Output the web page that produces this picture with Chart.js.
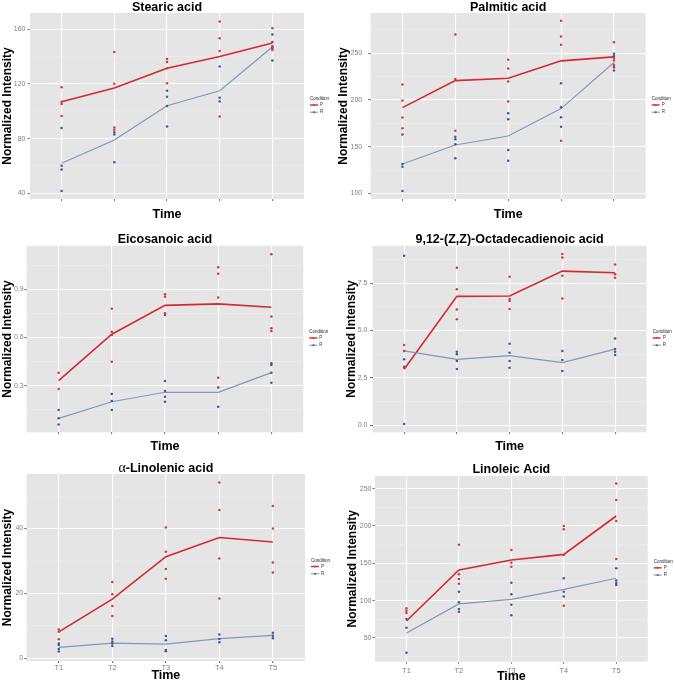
<!DOCTYPE html>
<html>
<head>
<meta charset="utf-8">
<script src="https://cdn.jsdelivr.net/npm/chart.js@4.4.1/dist/chart.umd.min.js"></script>
<style>
body { margin: 0; background: #fff; }
#wrap { position: relative; width: 675px; height: 683px; }
#wrap canvas { position: absolute; }
</style>
</head>
<body>
<div id="wrap"></div>
<script>
var times = ['T1', 'T2', 'T3', 'T4', 'T5'];
var conditions = ['P', 'R'];

// Stearic acid
var stearicMeanP = [107, 117, 131.5, 140, 150];
var stearicMeanR = [62, 79, 104, 115, 147];
var stearicRepP = [[117.6, 107, 105.4, 96.6], [143.4, 120.2, 88.1, 86.4], [138.3, 136.1, 131.5, 120.5], [165.6, 153.4, 144.1, 96.1], [160.7, 147.8, 146.1, 144.9]];
var stearicRepR = [[87.8, 60.2, 57.3, 41.7], [84.7, 83, 62.7], [115.1, 110.7, 103.9, 88.8], [132.7, 109.8, 107.1], [156.1, 150.7, 146.8, 137.1]];
var stearicTicks = [40, 80, 120, 160];

// Palmitic acid
var palmiticMeanP = [191.8, 220.7, 223.2, 241.8, 246.1];
var palmiticMeanR = [131.4, 151.8, 161.4, 190.7, 240];
var palmiticRepP = [[216.4, 199.3, 181.1, 169.6], [270, 222.5, 167.1], [242.9, 233.6, 219.6, 198.2], [284.6, 267.9, 258.9, 156.4], [261.8, 244.6, 242.1, 237.5, 234.6]];
var palmiticRepR = [[162.9, 131.4, 128.6, 102.5], [160.7, 157.9, 152.5, 137.5], [185.7, 179.3, 146.4, 135], [217.9, 192.1, 181.4, 171.4], [249.3, 247.1, 235.7, 231.4]];
var palmiticTicks = [100, 150, 200, 250];

// Eicosanoic acid
var eicosMeanP = [0.331, 0.620, 0.800, 0.809, 0.788];
var eicosMeanR = [0.097, 0.200, 0.259, 0.259, 0.381];
var eicosRepP = [[0.381, 0.279], [0.778, 0.636, 0.616, 0.449], [0.869, 0.854, 0.751, 0.740], [1.037, 0.996, 0.848, 0.350], [1.118, 0.730, 0.657, 0.640]];
var eicosRepR = [[0.148, 0.097, 0.059], [0.248, 0.205, 0.148], [0.329, 0.267, 0.231, 0.200], [0.288, 0.169], [0.439, 0.429, 0.381, 0.319]];
var eicosTicks = [0.3, 0.6, 0.9];

// 9,12-(Z,Z)-Octadecadienoic acid
var octaMeanP = [2.95, 6.80, 6.82, 8.13, 8.04];
var octaMeanR = [3.92, 3.48, 3.67, 3.30, 4.02];
var octaRepP = [[4.23, 3.92, 3.04], [8.31, 7.18, 6.11, 5.59], [7.83, 6.66, 6.55, 6.13], [9.03, 8.85, 7.89, 6.69], [8.48, 7.97, 7.78]];
var octaRepR = [[8.94, 3.92, 3.48, 3.09, 0.07], [3.88, 3.74, 3.39, 2.97], [4.30, 3.83, 3.39, 3.04], [3.92, 3.44, 2.86], [4.58, 4.02, 3.88, 3.71]];
var octaTicks = [0.0, 2.5, 5.0, 7.5];

// alpha-Linolenic acid
var linolenicMeanP = [8.1, 18.2, 31.3, 37.2, 35.8];
var linolenicMeanR = [3.3, 4.6, 4.3, 6.0, 7.0];
var linolenicRepP = [[8.8, 8.1, 5.8], [23.5, 19.7, 16.1, 13.0], [40.3, 32.8, 27.5, 24.5], [54.2, 45.7, 30.7, 18.4], [46.9, 40.0, 29.5, 26.4]];
var linolenicRepR = [[4.5, 4.0, 2.8, 2.0], [6.0, 5.1, 4.5, 3.7], [6.8, 5.5, 2.5, 2.1], [7.3, 5.9, 4.9], [7.8, 6.9, 6.1]];
var linolenicTicks = [0, 20, 40];

// Linoleic acid
var linoleicMeanP = [72.7, 141, 154.4, 162, 213.4];
var linoleicMeanR = [56.6, 95.6, 101.8, 115, 130];
var linoleicRepP = [[89.7, 86.6, 83.5], [175, 135.3, 129, 122.7], [167.8, 150.8, 145.5], [200, 195.5, 161, 93.3], [257, 234.8, 206.7, 155.8]];
var linoleicRepR = [[75.4, 63.8, 30.3], [112, 98, 88.7, 85], [124, 108.5, 94.5, 80.3], [130, 112, 105.4], [143.3, 127, 123.6, 121]];
var linoleicTicks = [50, 100, 150, 200, 250];

var RED_LINE = '#d7282e', RED_PT = '#d23a3f';
var BLUE_LINE = '#8496ba', BLUE_PT = '#3b5b98';
var FONT = '"Liberation Sans", Arial, sans-serif';
Chart.defaults.font.family = FONT;

// box = canvas [left, top, w, h], area = plot area inside the canvas [left, top, right, bottom]
var panels = [
  {title: [['Stearic acid', 'bold']], mp: stearicMeanP, mr: stearicMeanR, rp: stearicRepP, rr: stearicRepR, ticks: stearicTicks, dec: 0,
   min: 35.8, max: 171.9, box: [0, 0, 335, 226], area: [30, 13, 304, 199], titleY: 7.3, timePad: 5.5, yPad: 1.5, yTickPad: 2, xLabels: false, xPad: 0},
  {title: [['Palmitic acid', 'bold']], mp: palmiticMeanP, mr: palmiticMeanR, rp: palmiticRepP, rr: palmiticRepR, ticks: palmiticTicks, dec: 0,
   min: 94, max: 293, box: [335, 0, 340, 226], area: [35.7, 13, 310.7, 199], titleY: 7.3, timePad: 5.5, yPad: 2.3, yTickPad: 6, xLabels: false, xPad: 0},
  {title: [['Eicosanoic acid', 'bold']], mp: eicosMeanP, mr: eicosMeanR, rp: eicosRepP, rr: eicosRepR, ticks: eicosTicks, dec: 1,
   min: 0.01, max: 1.171, box: [0, 228, 335, 228], area: [26.7, 17.7, 303.3, 204.3], titleY: 12, timePad: 2.8, yPad: 1.2, yTickPad: 0.5, xLabels: false, xPad: 0},
  {title: [['9,12-(Z,Z)-Octadecadienoic acid', 'bold']], mp: octaMeanP, mr: octaMeanR, rp: octaRepP, rr: octaRepR, ticks: octaTicks, dec: 1,
   min: -0.37, max: 9.47, box: [335, 228, 340, 228], area: [37.5, 17.7, 311.7, 204.3], titleY: 12, timePad: 2.8, yPad: 10.5, yTickPad: 2.5, xLabels: false, xPad: 0},
  {title: [['\u03b1', 'alpha'], ['-Linolenic acid', 'bold']], mp: linolenicMeanP, mr: linolenicMeanR, rp: linolenicRepP, rr: linolenicRepR, ticks: linolenicTicks, dec: 0,
   min: -0.9, max: 56.8, box: [0, 458, 335, 225], area: [26.7, 16, 305, 203], titleY: 10.3, timePad: 1.5, yPad: 2, yTickPad: 1, xLabels: true, xPad: 0},
  {title: [['Linoleic Acid', 'bold']], mp: linoleicMeanP, mr: linoleicMeanR, rp: linoleicRepP, rr: linoleicRepR, ticks: linoleicTicks, dec: 0,
   min: 18.2, max: 267, box: [335, 458, 340, 225], area: [40, 18, 312.7, 203.7], titleY: 11.3, timePad: 0.5, yPad: 12, yTickPad: 1, xLabels: true, xPad: 3}
];

function linePts(vals) {
  return vals.map(function (v, i) { return {x: i + 1, y: v}; });
}
function repPts(reps) {
  var out = [];
  reps.forEach(function (vals, i) {
    vals.forEach(function (v) { out.push({x: i + 1, y: v}); });
  });
  return out;
}
// major ticks from the array, plus minor ticks half way between them
function yTicks(major, min, max) {
  var step = major[1] - major[0];
  var out = major.map(function (v) { return {value: v}; });
  for (var v = major[0] - step / 2; v <= max; v += step) {
    if (v >= min) out.push({value: v, minor: true});
  }
  out.sort(function (a, b) { return a.value - b.value; });
  return out;
}

function ggPlugin(p) {
  return {
    id: 'gg',
    beforeDraw: function (chart) {
      var a = chart.chartArea, ctx = chart.ctx;
      ctx.save();
      ctx.fillStyle = '#e5e5e5';
      ctx.fillRect(a.left, a.top, a.right - a.left, a.bottom - a.top);
      ctx.restore();
    },
    afterDraw: function (chart) {
      var a = chart.chartArea, ctx = chart.ctx;
      ctx.save();
      // title
      var fonts = {bold: 'bold 12.5px ' + FONT, alpha: '14px "Liberation Serif", serif'};
      var w = 0;
      p.title.forEach(function (s) { ctx.font = fonts[s[1]]; w += ctx.measureText(s[0]).width; });
      var x = (a.left + a.right) / 2 - w / 2;
      ctx.fillStyle = '#000';
      ctx.textBaseline = 'middle';
      ctx.textAlign = 'left';
      p.title.forEach(function (s) {
        ctx.font = fonts[s[1]];
        ctx.fillText(s[0], x, p.titleY);
        x += ctx.measureText(s[0]).width;
      });
      // legend
      var lx = a.right + 6, cy = (a.top + a.bottom) / 2;
      ctx.font = '4.5px ' + FONT;
      ctx.fillStyle = '#222';
      ctx.fillText('Condition', lx, cy - 7);
      conditions.forEach(function (c, i) {
        var y = cy - 1 + i * 7.2;
        ctx.strokeStyle = i === 0 ? RED_LINE : BLUE_LINE;
        ctx.lineWidth = i === 0 ? 1.4 : 1.1;
        ctx.beginPath(); ctx.moveTo(lx, y); ctx.lineTo(lx + 8, y); ctx.stroke();
        ctx.fillStyle = i === 0 ? RED_PT : BLUE_PT;
        ctx.beginPath(); ctx.arc(lx + 4, y, 1, 0, Math.PI * 2); ctx.fill();
        ctx.fillStyle = '#333';
        ctx.fillText(c, lx + 10, y);
      });
      ctx.restore();
    }
  };
}

var wrap = document.getElementById('wrap');
panels.forEach(function (p) {
  var cv = document.createElement('canvas');
  cv.width = p.box[2];
  cv.height = p.box[3];
  cv.style.left = p.box[0] + 'px';
  cv.style.top = p.box[1] + 'px';
  wrap.appendChild(cv);
  var yW = p.area[0];
  var xH = p.box[3] - p.area[3];

  new Chart(cv, {
    type: 'line',
    data: {
      datasets: [
        {label: 'P', data: linePts(p.mp), borderColor: RED_LINE, borderWidth: 1.6, pointRadius: 0, tension: 0, order: 3},
        {label: 'R', data: linePts(p.mr), borderColor: BLUE_LINE, borderWidth: 1.2, pointRadius: 0, tension: 0, order: 2},
        {label: 'P reps', data: repPts(p.rp), showLine: false, pointRadius: 1.25, pointBackgroundColor: RED_PT, pointBorderWidth: 0, order: 1},
        {label: 'R reps', data: repPts(p.rr), showLine: false, pointRadius: 1.25, pointBackgroundColor: BLUE_PT, pointBorderWidth: 0, order: 1}
      ]
    },
    options: {
      responsive: false,
      animation: false,
      devicePixelRatio: 1,
      events: [],
      layout: {padding: {left: 0, top: p.area[1], right: p.box[2] - p.area[2], bottom: 0}},
      plugins: {legend: {display: false}, tooltip: {enabled: false}, title: {display: false}},
      scales: {
        x: {
          type: 'linear', min: 0.4, max: 5.6,
          afterBuildTicks: function (s) { s.ticks = times.map(function (t, i) { return {value: i + 1}; }); },
          afterFit: function (s) { s.height = xH; },
          border: {display: false},
          grid: {color: '#ffffff', lineWidth: 1.1, tickLength: 2, tickColor: '#7f7f7f'},
          ticks: {autoSkip: false, maxRotation: 0, padding: p.xPad, color: '#7f7f7f', font: {size: 7.5},
            callback: function (v) { return p.xLabels ? times[v - 1] : ''; }},
          title: {display: true, text: 'Time', color: '#000', font: {size: 12.5, weight: 'bold', lineHeight: 1},
            padding: {top: 0, bottom: p.timePad}}
        },
        y: {
          min: p.min, max: p.max,
          afterBuildTicks: function (s) { s.ticks = yTicks(p.ticks, p.min, p.max); },
          afterFit: function (s) { s.width = yW; },
          border: {display: false},
          grid: {
            color: function (c) { return c.tick && c.tick.minor ? '#ececec' : '#ffffff'; },
            lineWidth: function (c) { return c.tick && c.tick.minor ? 0.6 : 1.1; },
            tickLength: 2.5,
            tickColor: function (c) { return c.tick && c.tick.minor ? 'rgba(0,0,0,0)' : '#7f7f7f'; }
          },
          ticks: {autoSkip: false, padding: p.yTickPad, color: '#7f7f7f', font: {size: 7},
            callback: function (v, i, t) { return t[i].minor ? '' : v.toFixed(p.dec); }},
          title: {display: true, text: 'Normalized Intensity', color: '#000', font: {size: 12, weight: 'bold', lineHeight: 1},
            padding: {top: p.yPad, bottom: 0}}
        }
      }
    },
    plugins: [ggPlugin(p)]
  });
});
</script>
</body>
</html>
